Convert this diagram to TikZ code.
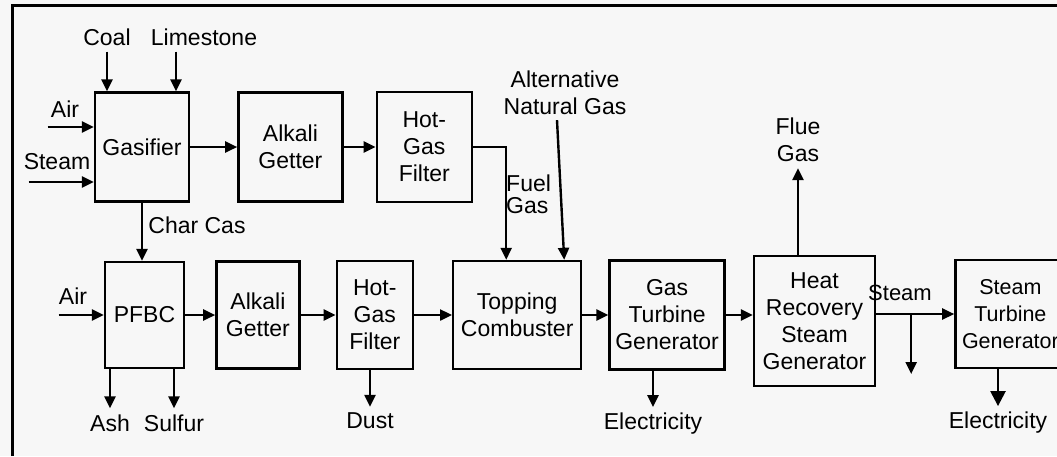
\documentclass[tikz,border=0pt]{standalone}
\usepackage{fontspec}
\setmainfont{Liberation Sans}
\usetikzlibrary{arrows.meta, positioning, calc}
\definecolor{papercolor}{RGB}{247,247,247}

\begin{document}
\begin{tikzpicture}[
    x=1pt, y=-1pt,
    font=\fontsize{23}{27}\selectfont,
    unit/.style={rectangle, draw, line width=2.4pt, align=center, inner sep=2pt},
    tag/.style={inner sep=6pt, align=center},
    arrow/.style={-{Triangle[length=12pt, width=11pt]}, line width=2.4pt},
    node distance=30pt
]

    % Page and frame
    \path[use as bounding box, fill=papercolor] (0,0) rectangle (1057,456);
    \draw[line width=3pt] (12,456) -- (12,5) -- (1057,5);

    % Gasifier line (top row)
    \node[unit, minimum width=94pt, minimum height=109pt] (gasifier) at (142,147) {Gasifier};
    \node[unit, minimum width=104pt, minimum height=109pt, right=47pt of gasifier] (getter1) {Alkali\\Getter};
    \node[unit, minimum width=95pt, minimum height=110pt, right=32pt of getter1] (filter1) {Hot-\\Gas\\Filter};

    % Combustion line (bottom row)
    \node[unit, minimum width=79pt, minimum height=106pt] (pfbc) at (144.5,315) {PFBC};
    \node[unit, minimum width=83pt, minimum height=107pt, right=30pt of pfbc] (getter2) {Alkali\\Getter};
    \node[unit, minimum width=76pt, minimum height=108pt, right=35pt of getter2] (filter2) {Hot-\\Gas\\Filter};
    \node[unit, minimum width=128pt, minimum height=108pt, right=38pt of filter2] (combuster) {Topping\\Combuster};
    \node[unit, minimum width=115pt, minimum height=109pt, right=26pt of combuster] (gtg) {Gas\\Turbine\\Generator};
    \node[unit, minimum width=121pt, minimum height=130pt, right=27pt of gtg, yshift=-6pt] (hrsg) {Heat\\Recovery\\Steam\\Generator};
    \node[unit, minimum width=110pt, minimum height=108pt, right=78pt of hrsg, yshift=7pt, inner sep=0pt, font=\fontsize{21.5}{27}\selectfont] (stg) {Steam\\Turbine\\Generator};

    % Stream labels
    \node[tag] (coal) at (107,37) {Coal};
    \node[tag] (limestone) at (204,37) {Limestone};
    \node[tag, inner sep=0pt] (air1) at (65,109) {Air};
    \node[tag, inner sep=0pt] (steam1) at (57,162) {Steam};
    \node[tag, inner sep=0pt] (charcas) at (197,225) {Char Cas};
    \node[tag, inner sep=0pt] (air2) at (73,296) {Air};
    \node[tag, inner sep=5pt] (natgas) at (565,93) {Alternative\\Natural Gas};
    \node[tag, inner sep=0pt, align=left, anchor=west, font=\fontsize{23}{22}\selectfont] (fuelgas) at (506,194) {Fuel\\Gas};
    \node[tag] (flue) at (798,140) {Flue\\Gas};
    \node[tag, inner sep=0pt, font=\fontsize{22}{27}\selectfont] (steam2) at (900,293) {Steam};
    \node[tag] (ash) at (110,423) {Ash};
    \node[tag] (sulfur) at (174,423) {Sulfur};
    \node[tag] (dust) at (370,421) {Dust};
    \node[tag] (elec1) at (653,424) {Electricity};
    \node[tag] (elec2) at (998,423) {Electricity};

    % Feed points
    \coordinate (airin) at ([yshift=20pt]gasifier.west);
    \coordinate (steamin) at ([yshift=-35pt]gasifier.west);
    \coordinate (fuelin) at ([xshift=-11pt]combuster.north);
    \coordinate (gasin) at ([xshift=47pt]combuster.north);
    \coordinate (split) at ([xshift=35pt]hrsg.east |- stg.west);
    \coordinate (steamout) at ([yshift=-60pt]split);

    % Inputs
    \draw[arrow] (coal.south) -- (coal.south |- gasifier.north);
    \draw[arrow] ([xshift=-28pt]limestone.south) -- ([xshift=-28pt]limestone.south |- gasifier.north);
    \draw[arrow] ([xshift=-3pt]air1.west |- airin) -- (airin);
    \draw[arrow] ([xshift=5pt]steam1.west |- steamin) -- (steamin);
    \draw[arrow] (air2.west |- pfbc.west) -- (pfbc.west);
    \draw[arrow] ([xshift=-8pt]natgas.south) -- (gasin);

    % Main flow
    \draw[arrow] (gasifier.east) -- (getter1.west);
    \draw[arrow] (getter1.east) -- (filter1.west);
    \draw[arrow] (filter1.east) -| (fuelin);
    \draw[arrow] (gasifier.south) -- (gasifier.south |- pfbc.north);
    \draw[arrow] (pfbc.east) -- (getter2.west);
    \draw[arrow] (getter2.east) -- (filter2.west);
    \draw[arrow] (filter2.east) -- (combuster.west);
    \draw[arrow] (combuster.east) -- (gtg.west);
    \draw[arrow] (gtg.east) -- (gtg.east -| hrsg.west);
    \draw[arrow] (hrsg.east |- stg.west) -- (stg.west);
    \draw[arrow] (split) -- (steamout);

    % Outputs
    \draw[arrow] (hrsg.north -| flue) -- (flue.south);
    \draw[arrow] (pfbc.south -| ash) -- (ash.north);
    \draw[arrow] (pfbc.south -| sulfur) -- (sulfur.north);
    \draw[arrow] (filter2.south -| dust) -- (dust.north);
    \draw[arrow] (gtg.south -| elec1) -- (elec1.north);
    \draw[arrow, -{Triangle[length=15pt, width=15pt]}] (stg.south -| elec2) -- (elec2.north);

\end{tikzpicture}
\end{document}
